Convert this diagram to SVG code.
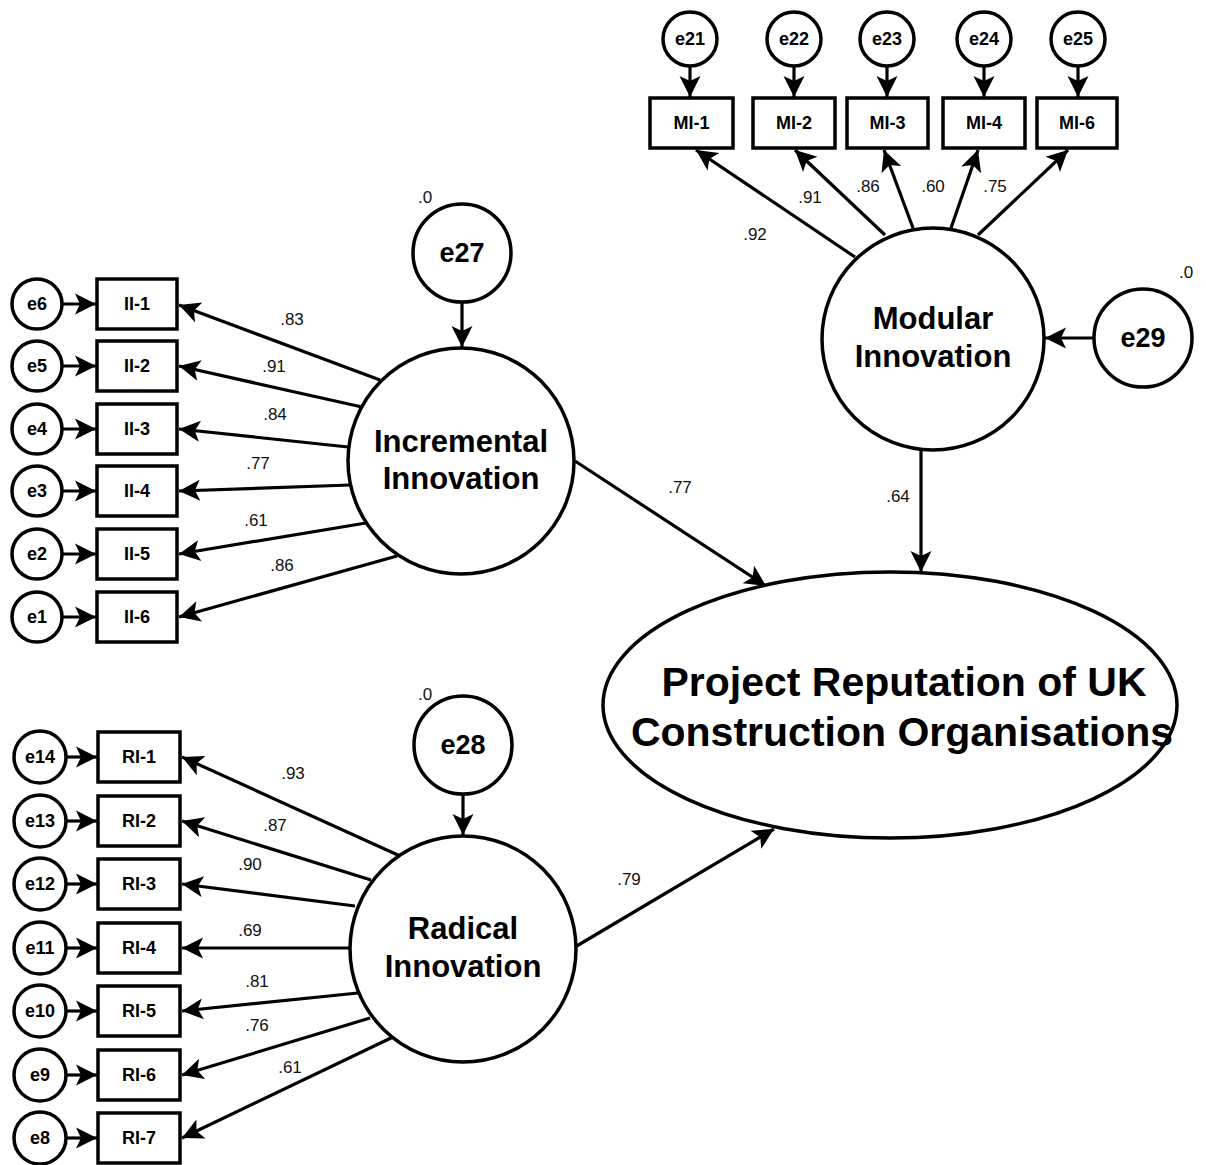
<svg xmlns="http://www.w3.org/2000/svg" width="1206" height="1165" viewBox="0 0 1206 1165">
  <defs>
    <marker id="arr" markerUnits="userSpaceOnUse" markerWidth="24" markerHeight="24" refX="21" refY="10.5" orient="auto" overflow="visible">
      <path d="M0,0 L21,10.5 L0,21 L5,10.5 Z" fill="#000"/>
    </marker>
    <style>
      .shape { fill: #fff; stroke: #000; stroke-width: 3.5; }
      .edge { fill: none; stroke: #000; stroke-width: 3.2; marker-end: url(#arr); }
      text { font-family: "Liberation Sans", Arial, Helvetica, sans-serif; fill: #000; text-anchor: middle; }
      .ind { font-size: 18px; font-weight: bold; dominant-baseline: central; }
      .err { font-size: 18px; font-weight: bold; dominant-baseline: central; }
      .dist { font-size: 27px; font-weight: bold; dominant-baseline: central; }
      .lat { font-size: 31px; font-weight: bold; }
      .out { font-size: 41px; font-weight: bold; }
      .w { font-size: 17px; dominant-baseline: central; fill: #111; }
    </style>
  </defs>

  <!-- connectors -->
  <g id="connectors">
    <!-- error terms to modular indicators -->
    <line class="edge" x1="690" y1="66" x2="690" y2="97"/>
    <line class="edge" x1="794" y1="66" x2="794" y2="97"/>
    <line class="edge" x1="887" y1="66" x2="887" y2="97"/>
    <line class="edge" x1="984" y1="66" x2="984" y2="97"/>
    <line class="edge" x1="1078" y1="66" x2="1078" y2="97"/>
    <!-- modular loadings -->
    <line class="edge" x1="855" y1="257" x2="696" y2="150"/>
    <line class="edge" x1="885" y1="235" x2="795" y2="150"/>
    <line class="edge" x1="913" y1="228" x2="884" y2="150"/>
    <line class="edge" x1="951" y1="228" x2="978" y2="150"/>
    <line class="edge" x1="978" y1="235" x2="1068" y2="150"/>
    <!-- disturbances -->
    <line class="edge" x1="462" y1="302" x2="462" y2="347"/>
    <line class="edge" x1="463" y1="794" x2="463" y2="835"/>
    <line class="edge" x1="1094" y1="338" x2="1045" y2="338"/>
    <!-- structural paths -->
    <line class="edge" x1="921" y1="450" x2="921" y2="572"/>
    <line class="edge" x1="575" y1="461" x2="766" y2="586"/>
    <line class="edge" x1="575" y1="947" x2="774" y2="829"/>
    <!-- incremental loadings -->
    <line class="edge" x1="380" y1="380" x2="179" y2="305"/>
    <line class="edge" x1="362" y1="407" x2="179" y2="366"/>
    <line class="edge" x1="348" y1="447" x2="179" y2="429"/>
    <line class="edge" x1="350" y1="485" x2="179" y2="491"/>
    <line class="edge" x1="366" y1="523" x2="179" y2="554"/>
    <line class="edge" x1="397" y1="556" x2="179" y2="617"/>
    <!-- incremental error terms -->
    <line class="edge" x1="62" y1="304" x2="96" y2="304"/>
    <line class="edge" x1="62" y1="366" x2="96" y2="366"/>
    <line class="edge" x1="62" y1="429" x2="96" y2="429"/>
    <line class="edge" x1="62" y1="491" x2="96" y2="491"/>
    <line class="edge" x1="62" y1="554" x2="96" y2="554"/>
    <line class="edge" x1="62" y1="617" x2="96" y2="617"/>
    <!-- radical loadings -->
    <line class="edge" x1="400" y1="856" x2="182" y2="757"/>
    <line class="edge" x1="371" y1="880" x2="182" y2="821"/>
    <line class="edge" x1="355" y1="906" x2="182" y2="884"/>
    <line class="edge" x1="350" y1="948" x2="182" y2="948"/>
    <line class="edge" x1="358" y1="993" x2="182" y2="1011"/>
    <line class="edge" x1="370" y1="1018" x2="182" y2="1075"/>
    <line class="edge" x1="393" y1="1037" x2="182" y2="1138"/>
    <!-- radical error terms -->
    <line class="edge" x1="66" y1="757" x2="97" y2="757"/>
    <line class="edge" x1="66" y1="821" x2="97" y2="821"/>
    <line class="edge" x1="66" y1="884" x2="97" y2="884"/>
    <line class="edge" x1="66" y1="948" x2="97" y2="948"/>
    <line class="edge" x1="66" y1="1011" x2="97" y2="1011"/>
    <line class="edge" x1="66" y1="1075" x2="97" y2="1075"/>
    <line class="edge" x1="66" y1="1138" x2="97" y2="1138"/>
  </g>

  <!-- path coefficients -->
  <g id="weights">
    <text class="w" x="755" y="234">.92</text>
    <text class="w" x="810" y="197">.91</text>
    <text class="w" x="868" y="186">.86</text>
    <text class="w" x="933" y="186">.60</text>
    <text class="w" x="995" y="186">.75</text>
    <text class="w" x="898" y="496">.64</text>
    <text class="w" x="680" y="487">.77</text>
    <text class="w" x="629" y="879">.79</text>
    <text class="w" x="292" y="319">.83</text>
    <text class="w" x="274" y="366">.91</text>
    <text class="w" x="275" y="414">.84</text>
    <text class="w" x="258" y="463">.77</text>
    <text class="w" x="256" y="520">.61</text>
    <text class="w" x="282" y="565">.86</text>
    <text class="w" x="293" y="773">.93</text>
    <text class="w" x="275" y="825">.87</text>
    <text class="w" x="250" y="864">.90</text>
    <text class="w" x="250" y="930">.69</text>
    <text class="w" x="257" y="981">.81</text>
    <text class="w" x="257" y="1025">.76</text>
    <text class="w" x="290" y="1067">.61</text>
    <text class="w" x="425" y="197">.0</text>
    <text class="w" x="425" y="694">.0</text>
    <text class="w" x="1186" y="272">.0</text>
  </g>

  <!-- modular innovation indicators -->
  <g id="e21"><circle class="shape" cx="690" cy="39" r="27"/><text class="err" x="690" y="39">e21</text></g>
  <g id="e22"><circle class="shape" cx="794" cy="39" r="27"/><text class="err" x="794" y="39">e22</text></g>
  <g id="e23"><circle class="shape" cx="887" cy="39" r="27"/><text class="err" x="887" y="39">e23</text></g>
  <g id="e24"><circle class="shape" cx="984" cy="39" r="27"/><text class="err" x="984" y="39">e24</text></g>
  <g id="e25"><circle class="shape" cx="1078" cy="39" r="27"/><text class="err" x="1078" y="39">e25</text></g>
  <g id="MI-1"><rect class="shape" x="650" y="98" width="83" height="50"/><text class="ind" x="691.5" y="123">MI-1</text></g>
  <g id="MI-2"><rect class="shape" x="753" y="98" width="82" height="50"/><text class="ind" x="794" y="123">MI-2</text></g>
  <g id="MI-3"><rect class="shape" x="847" y="98" width="81" height="50"/><text class="ind" x="887.5" y="123">MI-3</text></g>
  <g id="MI-4"><rect class="shape" x="943" y="98" width="82" height="50"/><text class="ind" x="984" y="123">MI-4</text></g>
  <g id="MI-6"><rect class="shape" x="1037" y="98" width="80" height="50"/><text class="ind" x="1077" y="123">MI-6</text></g>

  <!-- latent constructs -->
  <g id="modular">
    <circle class="shape" cx="933" cy="339" r="111"/>
    <text class="lat" x="933" y="329">Modular</text>
    <text class="lat" x="933" y="367">Innovation</text>
  </g>
  <g id="e29"><circle class="shape" cx="1143" cy="338" r="49"/><text class="dist" x="1143" y="338">e29</text></g>

  <g id="e27"><circle class="shape" cx="462" cy="253" r="49"/><text class="dist" x="462" y="253">e27</text></g>
  <g id="incremental">
    <circle class="shape" cx="461" cy="461" r="113"/>
    <text class="lat" x="461" y="452">Incremental</text>
    <text class="lat" x="461" y="489">Innovation</text>
  </g>

  <g id="e28"><circle class="shape" cx="463" cy="745" r="49"/><text class="dist" x="463" y="745">e28</text></g>
  <g id="radical">
    <circle class="shape" cx="463" cy="949" r="113"/>
    <text class="lat" x="463" y="939">Radical</text>
    <text class="lat" x="463" y="977">Innovation</text>
  </g>

  <g id="reputation">
    <ellipse class="shape" cx="890" cy="705" rx="287" ry="133"/>
    <text class="out" x="904" y="696">Project Reputation of UK</text>
    <text class="out" x="902" y="746">Construction Organisations</text>
  </g>

  <!-- incremental innovation indicators -->
  <g id="e6"><circle class="shape" cx="37" cy="304" r="25"/><text class="err" x="37" y="304">e6</text></g>
  <g id="e5"><circle class="shape" cx="37" cy="366" r="25"/><text class="err" x="37" y="366">e5</text></g>
  <g id="e4"><circle class="shape" cx="37" cy="429" r="25"/><text class="err" x="37" y="429">e4</text></g>
  <g id="e3"><circle class="shape" cx="37" cy="491" r="25"/><text class="err" x="37" y="491">e3</text></g>
  <g id="e2"><circle class="shape" cx="37" cy="554" r="25"/><text class="err" x="37" y="554">e2</text></g>
  <g id="e1"><circle class="shape" cx="37" cy="617" r="25"/><text class="err" x="37" y="617">e1</text></g>
  <g id="II-1"><rect class="shape" x="97" y="279" width="80" height="50"/><text class="ind" x="137" y="304">II-1</text></g>
  <g id="II-2"><rect class="shape" x="97" y="341" width="80" height="50"/><text class="ind" x="137" y="366">II-2</text></g>
  <g id="II-3"><rect class="shape" x="97" y="404" width="80" height="50"/><text class="ind" x="137" y="429">II-3</text></g>
  <g id="II-4"><rect class="shape" x="97" y="466" width="80" height="50"/><text class="ind" x="137" y="491">II-4</text></g>
  <g id="II-5"><rect class="shape" x="97" y="529" width="80" height="50"/><text class="ind" x="137" y="554">II-5</text></g>
  <g id="II-6"><rect class="shape" x="97" y="592" width="80" height="50"/><text class="ind" x="137" y="617">II-6</text></g>

  <!-- radical innovation indicators -->
  <g id="e14"><circle class="shape" cx="40" cy="757" r="26"/><text class="err" x="40" y="757">e14</text></g>
  <g id="e13"><circle class="shape" cx="40" cy="821" r="26"/><text class="err" x="40" y="821">e13</text></g>
  <g id="e12"><circle class="shape" cx="40" cy="884" r="26"/><text class="err" x="40" y="884">e12</text></g>
  <g id="e11"><circle class="shape" cx="40" cy="948" r="26"/><text class="err" x="40" y="948">e11</text></g>
  <g id="e10"><circle class="shape" cx="40" cy="1011" r="26"/><text class="err" x="40" y="1011">e10</text></g>
  <g id="e9"><circle class="shape" cx="40" cy="1075" r="26"/><text class="err" x="40" y="1075">e9</text></g>
  <g id="e8"><circle class="shape" cx="40" cy="1138" r="26"/><text class="err" x="40" y="1138">e8</text></g>
  <g id="RI-1"><rect class="shape" x="98" y="732" width="82" height="50"/><text class="ind" x="139" y="757">RI-1</text></g>
  <g id="RI-2"><rect class="shape" x="98" y="796" width="82" height="50"/><text class="ind" x="139" y="821">RI-2</text></g>
  <g id="RI-3"><rect class="shape" x="98" y="859" width="82" height="50"/><text class="ind" x="139" y="884">RI-3</text></g>
  <g id="RI-4"><rect class="shape" x="98" y="923" width="82" height="50"/><text class="ind" x="139" y="948">RI-4</text></g>
  <g id="RI-5"><rect class="shape" x="98" y="986" width="82" height="50"/><text class="ind" x="139" y="1011">RI-5</text></g>
  <g id="RI-6"><rect class="shape" x="98" y="1050" width="82" height="50"/><text class="ind" x="139" y="1075">RI-6</text></g>
  <g id="RI-7"><rect class="shape" x="98" y="1113" width="82" height="50"/><text class="ind" x="139" y="1138">RI-7</text></g>
</svg>
